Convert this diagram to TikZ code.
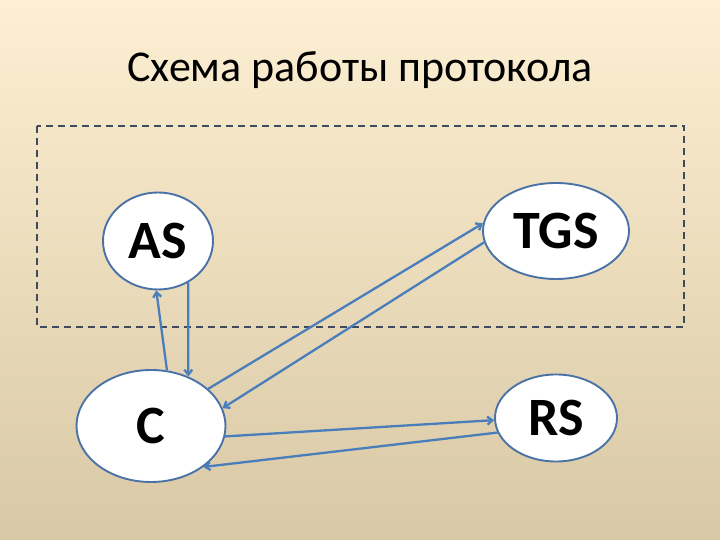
\documentclass[tikz,border=0pt]{standalone}
\usepackage{fontspec}
\setmainfont{Carlito}
\usetikzlibrary{arrows.meta,shapes.geometric}
\definecolor{bgtop}{HTML}{FDEFD2}
\definecolor{bgbot}{HTML}{D8C8A5}
\definecolor{ln}{HTML}{4A7EBB}
\definecolor{rim}{HTML}{4A72A6}
\definecolor{frame}{HTML}{3F4A5C}
\newcommand{\msg}[2]{\draw[msg] (#1) -- (#2);}

\begin{document}
\begin{tikzpicture}[x=1pt,y=1pt,>={Straight Barb[length=5pt,width=8pt]},
  srv/.style={ellipse,draw=rim,line width=1.9pt,fill=white,inner sep=0pt,
    font=\fontsize{54}{60}\selectfont\bfseries},
  msg/.style={->,draw=ln,line width=2.3pt}]
  \shade[top color=bgtop,bottom color=bgbot] (0,0) rectangle (720,540);
  \useasboundingbox (0,0) rectangle (720,540);
  \node[anchor=base,font=\fontsize{44}{52}\selectfont] (title) at (360,458) {Схема работы протокола};
  \draw[frame,line width=1.8pt,dash pattern=on 7pt off 5pt] (37,414) rectangle (684,213);
  \node[srv,minimum width=110pt,minimum height=97pt] (AS) at (158,299) {AS};
  \node[srv,minimum width=146pt,minimum height=96pt] (TGS) at (556,309) {TGS};
  \node[srv,minimum width=149pt,minimum height=112pt] (C) at (151,114) {C};
  \node[srv,minimum width=122pt,minimum height=87pt] (RS) at (556,122) {RS};
  \msg{C.74}{AS.-92}
  \msg{AS.-54}{C.53}
  \msg{C.33}{TGS.174}
  \msg{TGS.-171}{C.14}
  \msg{C.-8}{RS.-178}
  \msg{RS.-166}{C.-38}
\end{tikzpicture}
\end{document}
